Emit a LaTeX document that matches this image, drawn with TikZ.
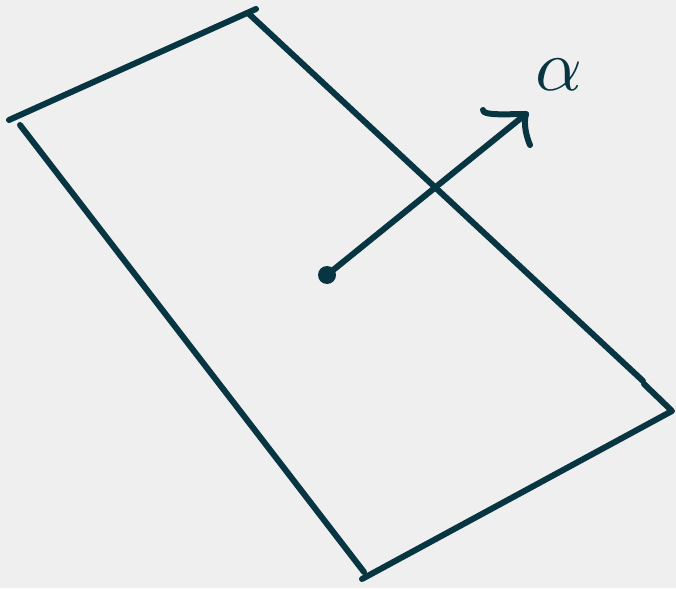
\documentclass[tikz,border=0pt]{standalone}
\usepackage{graphicx}
\begin{document}
\begin{tikzpicture}[x=1pt,y=-1pt,
  ink/.style={draw=inkc,line width=6pt,line cap=round,line join=round},
  dotnode/.style={circle,fill=inkc,inner sep=0pt,minimum size=18pt}]
\definecolor{inkc}{HTML}{073642}
\definecolor{bgc}{HTML}{EFEFEF}
\fill[bgc] (0,0) rectangle (676,588);
\useasboundingbox (0,0) rectangle (676,588);
% plane corners
\coordinate (tl) at (9,120);
\coordinate (tt) at (256,9);
\coordinate (tr1) at (248,13);
\coordinate (rr1) at (643,381);
\coordinate (rr2) at (644,384);
\coordinate (rc) at (672,411);
\coordinate (bc) at (362,579);
\coordinate (ll1) at (20,125);
\coordinate (ll2) at (364,572);
\draw[ink] (tl) -- (tt);
\draw[ink] (tr1) -- (rr1);
\draw[ink] (rr2) -- (rc) -- (bc);
\draw[ink] (ll1) -- (ll2);
% normal vector
\node[dotnode] (p) at (327,275) {};
\coordinate (tip) at (526,114);
\coordinate (barbL) at (483,110);
\coordinate (barbD) at (530,145);
\draw[ink] (p.center) -- (tip);
\draw[ink] (barbL) .. controls (482,116) and (510,114) .. (tip) .. controls (523,125) and (527,138) .. (barbD);
\node[text=inkc,inner sep=0pt] (a) at (559,75) {\scalebox{7.3}{$\alpha$}};
\end{tikzpicture}
\end{document}
